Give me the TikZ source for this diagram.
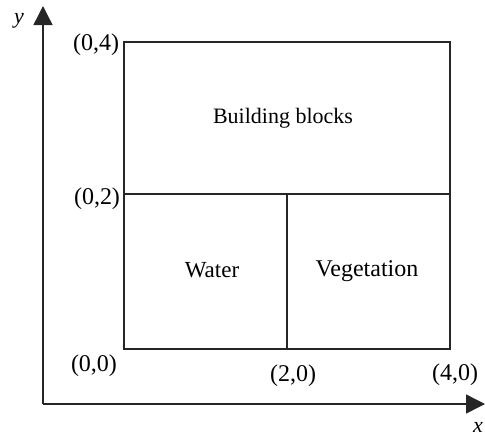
\documentclass[tikz,border=0pt]{standalone}
\usepackage{fontspec}
\setmainfont{Liberation Serif}
\usetikzlibrary{arrows.meta}
\begin{document}
\begin{tikzpicture}[x=1pt,y=-1pt,
  line/.style={draw=black!85,line width=1.4pt},
  axis/.style={draw=black!85,line width=1.4pt,-{Triangle[length=19pt,width=19pt]}},
  lbl/.style={font=\fontsize{24}{26}\selectfont,inner sep=0pt},
  region/.style={font=\fontsize{23}{25}\selectfont,inner sep=0pt}]
\useasboundingbox (0,0) rectangle (485,440);
% axes
\coordinate (O) at (43,404);
\coordinate (Xend) at (485,404);
\coordinate (Yend) at (43,6);
\draw[axis] (O) -- (Xend);
\draw[axis] (O) -- (Yend);
% region corners
\coordinate (A) at (124,42);
\coordinate (B) at (450,42);
\coordinate (C) at (450,349);
\coordinate (D) at (124,349);
\coordinate (ML) at (124,194);
\coordinate (MR) at (450,194);
\coordinate (MT) at (287,194);
\coordinate (MB) at (287,349);
\draw[line] (A) -- (B) -- (C) -- (D) -- cycle;
\draw[line] (ML) -- (MR);
\draw[line] (MT) -- (MB);
% labels
\node[lbl,font=\fontsize{22}{24}\selectfont\itshape] (ylab) at (19,21) {y};
\node[lbl,font=\fontsize{22}{24}\selectfont\itshape] (xlab) at (478,427) {x};
\node[lbl] (p04) at (96,45) {(0,4)};
\node[lbl] (p02) at (97,199) {(0,2)};
\node[lbl] (p00) at (94,366) {(0,0)};
\node[lbl] (p20) at (293,376) {(2,0)};
\node[lbl] (p40) at (455,375) {(4,0)};
\node[region,font=\fontsize{22}{24}\selectfont] (bb) at (283,118) {Building blocks};
\node[region] (w) at (212,270) {Water};
\node[region,font=\fontsize{24}{26}\selectfont] (v) at (367,271) {Vegetation};
\end{tikzpicture}
\end{document}
